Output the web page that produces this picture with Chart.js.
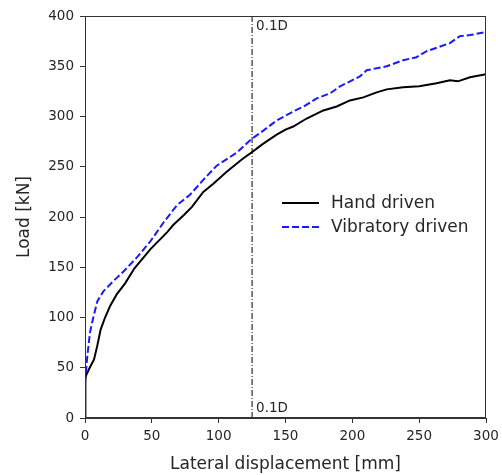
<!DOCTYPE html>
<html><head><meta charset="utf-8">
<script src="https://cdn.jsdelivr.net/npm/chart.js@4.4.0/dist/chart.umd.min.js"></script>
<style>html,body{margin:0;padding:0;background:#fff}#wrap{width:502px;height:475px}</style>
</head><body><div id="wrap"><canvas id="c" width="502" height="475"></canvas></div>
<script>
const handDisp = [0,0.3,1,3.5,6.7,9.2,11.7,15,19,23.7,30,37,49,61.5,66,74,80,88.5,96,106,118,123.4,128.4,133.4,143.4,150,155.8,165.8,178.3,188.3,198.2,208.2,218.2,225.7,238,250,263,273,279,288,300];
const handLoad = [0,40,43,50,58,72,88,100,112,123,134,149,168,185,192,202,210,225,233,245,258,263,268,273,282,287,290,298,306,310,316,319,324,327,329,330,333,336,335,339,342];
const vibDisp = [0,1.7,3.7,6.2,9.2,13.7,21,29,39,49,59,69,78.5,88.5,98.5,113.5,124,133.4,143.4,155.8,165,173.3,183.3,190.8,205.7,210.7,218.2,225.7,238,248,255.6,273,280.5,288,300];
const vibLoad = [35,61,85,100,116,126,136,146,160,176,195,212,222,237,251,264,277,286,296,305,311,318,323,330,340,346,348,350,356,359,365,373,380,381,384];
const refDisp = [125,125];
const refLoad = [0,400];
const xTicks = [0,50,100,150,200,250,300];
const yTicks = [0,50,100,150,200,250,300,350,400];
const seriesNames = ['Hand driven','Vibratory driven'];
const refLabel = '0.1D';

const pts = (xs, ys) => xs.map((x, i) => ({x, y: ys[i]}));
const FONT = 'DejaVu Sans';
const TXT = '#262626';

const framePlugin = {
  id: 'frame',
  afterDatasetsDraw(chart) {
    const {ctx, chartArea: a, scales} = chart;
    ctx.save();
    ctx.strokeStyle = '#333';
    ctx.lineWidth = 1;
    ctx.strokeRect(a.left + 0.5, a.top + 0.5, a.right - a.left - 1, a.bottom - a.top - 1);
    ctx.fillStyle = TXT;
    ctx.font = '13.5px "' + FONT + '"';
    ctx.textBaseline = 'middle';
    ctx.textAlign = 'left';
    const rx = scales.x.getPixelForValue(refDisp[0]) + 4;
    ctx.fillText(refLabel, rx, a.top + 10);
    ctx.fillText(refLabel, rx, a.bottom - 10);
    ctx.font = '17px "' + FONT + '"';
    const lx = 282, ly = 203, gap = 24;
    ctx.lineWidth = 2;
    ctx.strokeStyle = '#000';
    ctx.setLineDash([]);
    ctx.beginPath(); ctx.moveTo(lx, ly); ctx.lineTo(lx + 37, ly); ctx.stroke();
    ctx.strokeStyle = '#1a1aff';
    ctx.setLineDash([7, 3]);
    ctx.beginPath(); ctx.moveTo(lx, ly + gap); ctx.lineTo(lx + 37, ly + gap); ctx.stroke();
    ctx.setLineDash([]);
    ctx.fillText(seriesNames[0], 331, ly + 1);
    ctx.fillText(seriesNames[1], 331, ly + gap + 1);
    ctx.restore();
  }
};

new Chart(document.getElementById('c'), {
  type: 'line',
  data: {
    datasets: [
      {label: seriesNames[0], data: pts(handDisp, handLoad), borderColor: '#000', borderWidth: 2, pointRadius: 0, tension: 0, fill: false},
      {label: seriesNames[1], data: pts(vibDisp, vibLoad), borderColor: '#1a1aff', borderWidth: 2, borderDash: [7, 3], pointRadius: 0, tension: 0, fill: false},
      {label: refLabel, data: pts(refDisp, refLoad), borderColor: '#000', borderWidth: 1, borderDash: [6, 2, 1, 2], pointRadius: 0, tension: 0, fill: false}
    ]
  },
  options: {
    responsive: false,
    animation: false,
    devicePixelRatio: 1,
    layout: {padding: {left: 0, top: 16, right: 16, bottom: 0}},
    plugins: {legend: {display: false}, tooltip: {enabled: false}},
    scales: {
      x: {
        type: 'linear', min: 0, max: 300,
        afterFit: s => { s.height = 57; s.paddingLeft = 0; s.paddingRight = 0; },
        afterBuildTicks: s => { s.ticks = xTicks.map(v => ({value: v})); },
        ticks: {autoSkip: false, maxRotation: 0, padding: 5, color: TXT, font: {family: FONT, size: 13.5}},
        grid: {drawOnChartArea: false, drawTicks: true, tickLength: 5, color: '#333'},
        border: {display: true, color: '#333'},
        title: {display: true, text: 'Lateral displacement [mm]', color: TXT, font: {family: FONT, size: 17}, padding: {top: 0, bottom: 0}}
      },
      y: {
        type: 'linear', min: 0, max: 400,
        afterFit: s => { s.width = 85; s.paddingTop = 0; s.paddingBottom = 0; },
        afterBuildTicks: s => { s.ticks = yTicks.map(v => ({value: v})); },
        ticks: {autoSkip: false, padding: 6, color: TXT, font: {family: FONT, size: 13.5}},
        grid: {drawOnChartArea: false, drawTicks: true, tickLength: 5, color: '#333'},
        border: {display: true, color: '#333'},
        title: {display: true, text: 'Load [kN]', color: TXT, font: {family: FONT, size: 17}, padding: {top: 14, bottom: 0}}
      }
    }
  },
  plugins: [framePlugin]
});
</script></body></html>
